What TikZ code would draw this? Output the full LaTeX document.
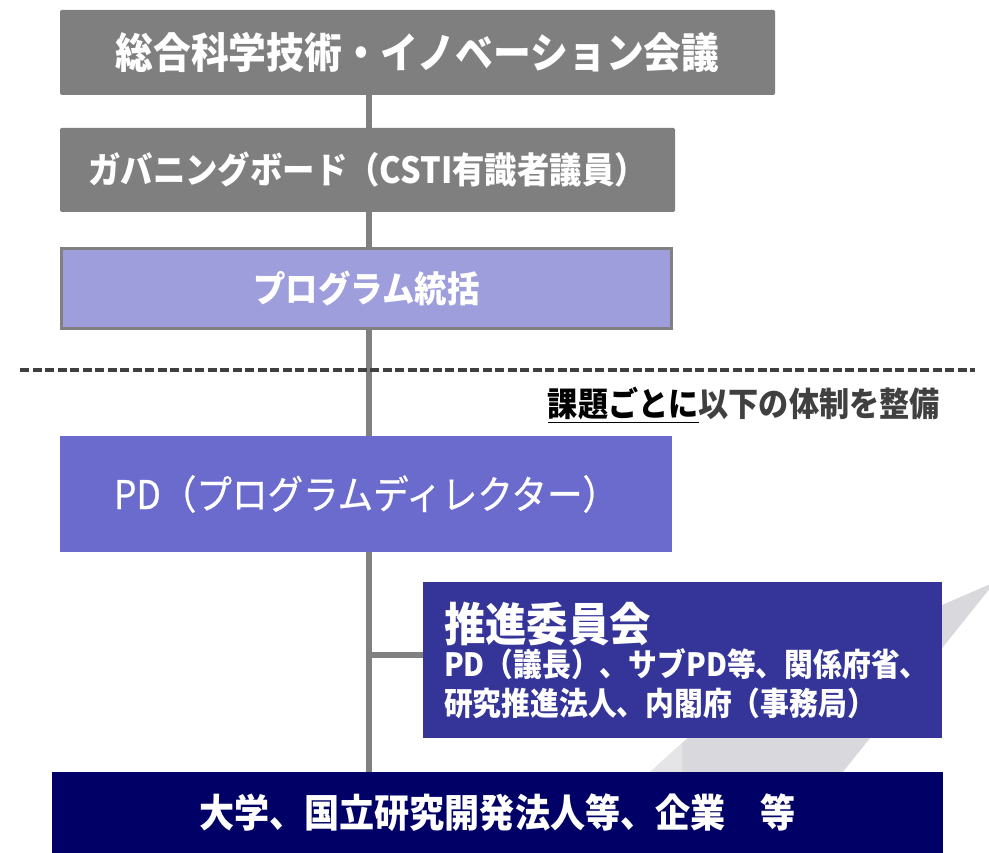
\documentclass[tikz,border=0pt]{standalone}
\usepackage{fontspec}
\setmainfont{Noto Sans CJK JP}[FakeStretch=0.9]
\newfontfamily\jplight{Noto Sans CJK JP}[FakeStretch=0.9,FakeBold=0.6]
\definecolor{boxgray}{RGB}{127,127,127}
\definecolor{linegray}{RGB}{128,128,128}
\definecolor{lilac}{RGB}{158,158,221}
\definecolor{pdblue}{RGB}{107,107,206}
\definecolor{iinblue}{RGB}{53,53,153}
\definecolor{navy}{RGB}{0,0,102}
\definecolor{dashgray}{RGB}{64,64,64}
\definecolor{swoosh}{RGB}{217,217,221}
\definecolor{swooshlt}{RGB}{229,229,232}
\pgfdeclarelayer{bg}
\pgfsetlayers{bg,main}

\begin{document}
\begin{tikzpicture}[x=1pt,y=-1pt]
\tikzstyle{layer}=[rectangle,inner sep=0pt,text=white,font=\bfseries]
\tikzstyle{grbox}=[layer,fill=boxgray,rounded corners=1.5pt]
\tikzstyle{conn}=[draw=linegray,line width=6pt]
\useasboundingbox (0,0) rectangle (989,853);
% background swoosh
\fill[swoosh] (561,853) -- (735,695) -- (995,582) -- (778,853) -- cycle;
\fill[swooshlt] (561,853) -- (682,743) -- (682,853) -- cycle;
\coordinate (dl) at (20,370);
\coordinate (dr) at (975,370);
\draw[dashgray,line width=3.5pt,dash pattern=on 9pt off 3.5pt] (dl) -- (dr);
\node [grbox,minimum width=715,minimum height=85] (kaigi) at (417.5,52.5)
  {\fontsize{42}{42}\selectfont 総合科学技術・イノベーション会議};
\node [grbox,minimum width=615,minimum height=84] (board) at (367.5,170)
  {\fontsize{36}{36}\selectfont ガバニングボード（CSTI有識者議員）};
\node [layer,fill=lilac,draw=linegray,line width=3pt,minimum width=610,minimum height=80] (tokatsu) at (366.5,288.5)
  {\fontsize{36}{36}\selectfont プログラム統括};
\node [layer,fill=pdblue,minimum width=612,minimum height=116,font=\jplight] (pd) at (366,494)
  {\fontsize{39.5}{39.5}\selectfont PD（プログラムディレクター）};
\node [layer,fill=iinblue,minimum width=519,minimum height=156,align=left,text width=477] (suishin) at (682.5,660)
  {\fontsize{46}{42}\selectfont 推進委員会\\[-4pt]
   \fontsize{32}{39}\selectfont PD（議長）、サブPD等、関係府省、\\[7pt]
   研究推進法人、内閣府（事務局）};
\node [layer,fill=navy,minimum width=891,minimum height=81] (daigaku) at (497.5,812.5)
  {\fontsize{39}{39}\selectfont 大学、国立研究開発法人等、企業　等};
\node [anchor=east,inner sep=0pt,text=dashgray,font=\bfseries] (kadai) at (940,405)
  {\fontsize{33.5}{33.5}\selectfont\textcolor{black}{\underline{課題ごとに}}以下の体制を整備};
% connectors
\coordinate (spine) at (369,95);
\coordinate (branch) at (369,655);
\begin{pgfonlayer}{bg}
\draw[conn] (spine |- kaigi.south) -- (spine |- daigaku.north);
\draw[conn] (branch) -- (branch -| suishin.west);
\end{pgfonlayer}
\end{tikzpicture}
\end{document}
